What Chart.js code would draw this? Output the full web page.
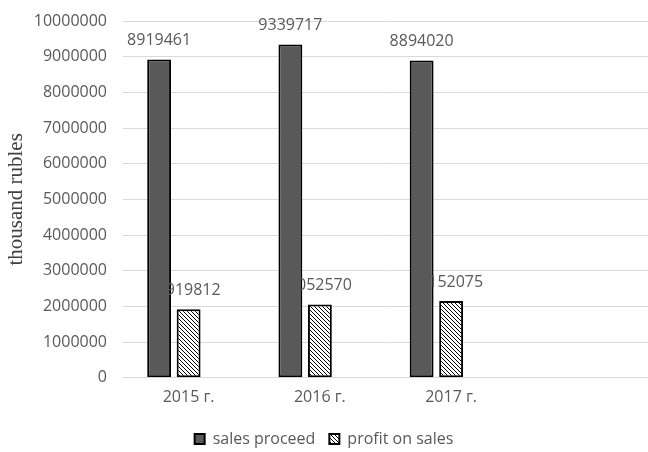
<!DOCTYPE html>
<html>
<head>
<meta charset="utf-8">
<script src="https://cdn.jsdelivr.net/npm/chart.js@4"></script>
<style>
  html, body { margin: 0; padding: 0; background: #fff; }
  #wrap { width: 648px; height: 452px; }
</style>
</head>
<body>
<div id="wrap"><canvas id="salesChart" width="648" height="452"></canvas></div>
<script>
const YEARS = ["2015 г.", "2016 г.", "2017 г.", ""];
const SALES_PROCEED = [8919461, 9339717, 8894020, null];
const PROFIT_ON_SALES = [1919812, 2052570, 2152075, null];
const EMPTY_SERIES = [null, null, null, null];

const TEXT_COLOR = "#595959";
const GRID_COLOR = "#d9d9d9";
const LABEL_FONT = "'Open Sans', 'Liberation Sans', sans-serif";

function hatchPattern() {
  const c = document.createElement('canvas');
  c.width = 4; c.height = 4;
  const g = c.getContext('2d');
  g.fillStyle = '#fff';
  g.fillRect(0, 0, 4, 4);
  g.strokeStyle = '#000';
  g.lineWidth = 1;
  g.beginPath();
  g.moveTo(-1, -1); g.lineTo(5, 5);
  g.moveTo(-1, 3); g.lineTo(1, 5);
  g.moveTo(3, -1); g.lineTo(5, 1);
  g.stroke();
  return g.createPattern(c, 'repeat');
}

const valueLabels = {
  id: 'valueLabels',
  afterDatasetsDraw(chart) {
    const ctx = chart.ctx;
    ctx.save();
    ctx.fillStyle = TEXT_COLOR;
    ctx.font = "16px " + LABEL_FONT;
    ctx.textAlign = 'center';
    ctx.textBaseline = 'middle';
    [0, 1].forEach(di => {
      const meta = chart.getDatasetMeta(di);
      meta.data.forEach((bar, i) => {
        const v = chart.data.datasets[di].data[i];
        if (v == null) return;
        ctx.fillText(String(v), bar.x, bar.y - 19);
      });
    });
    ctx.restore();
  }
};

const hatch = hatchPattern();
const ctx = document.getElementById('salesChart').getContext('2d');
new Chart(ctx, {
  type: 'bar',
  data: {
    labels: YEARS,
    datasets: [
      {
        label: 'sales proceed',
        data: SALES_PROCEED,
        backgroundColor: '#595959',
        borderColor: '#000',
        borderWidth: 2,
        borderSkipped: false
      },
      {
        label: 'profit on sales',
        data: PROFIT_ON_SALES,
        backgroundColor: hatch,
        borderColor: '#000',
        borderWidth: 2,
        borderSkipped: false
      },
      {
        label: '',
        data: EMPTY_SERIES,
        backgroundColor: 'transparent'
      }
    ]
  },
  options: {
    responsive: false,
    animation: false,
    datasets: { bar: { barPercentage: 0.81, categoryPercentage: 0.674 } },
    layout: { padding: { left: 0, right: 0, top: 21, bottom: -5 } },
    plugins: {
      legend: {
        position: 'bottom',
        labels: {
          color: TEXT_COLOR,
          font: { size: 16, family: LABEL_FONT },
          boxWidth: 10,
          boxHeight: 10,
          padding: 14,
          filter: item => item.datasetIndex < 2
        }
      },
      tooltip: { enabled: false }
    },
    scales: {
      x: {
        grid: { display: false, drawTicks: false },
        border: { color: GRID_COLOR },
        ticks: { color: TEXT_COLOR, font: { size: 16, family: LABEL_FONT }, padding: 10 }
      },
      y: {
        min: 0,
        max: 10000000,
        afterFit: scale => { scale.width = 123; scale.paddingTop = 0; },
        grid: { color: GRID_COLOR, drawTicks: false },
        border: { display: false },
        ticks: {
          stepSize: 1000000,
          padding: 16,
          color: TEXT_COLOR,
          font: { size: 16, family: LABEL_FONT },
          callback: v => String(v)
        },
        title: {
          display: true,
          text: 'thousand rubles',
          color: '#404040',
          font: { size: 21, family: "'Liberation Serif', serif" },
          padding: { top: 4, bottom: 0 }
        }
      }
    }
  },
  plugins: [valueLabels]
});
</script>
</body>
</html>
